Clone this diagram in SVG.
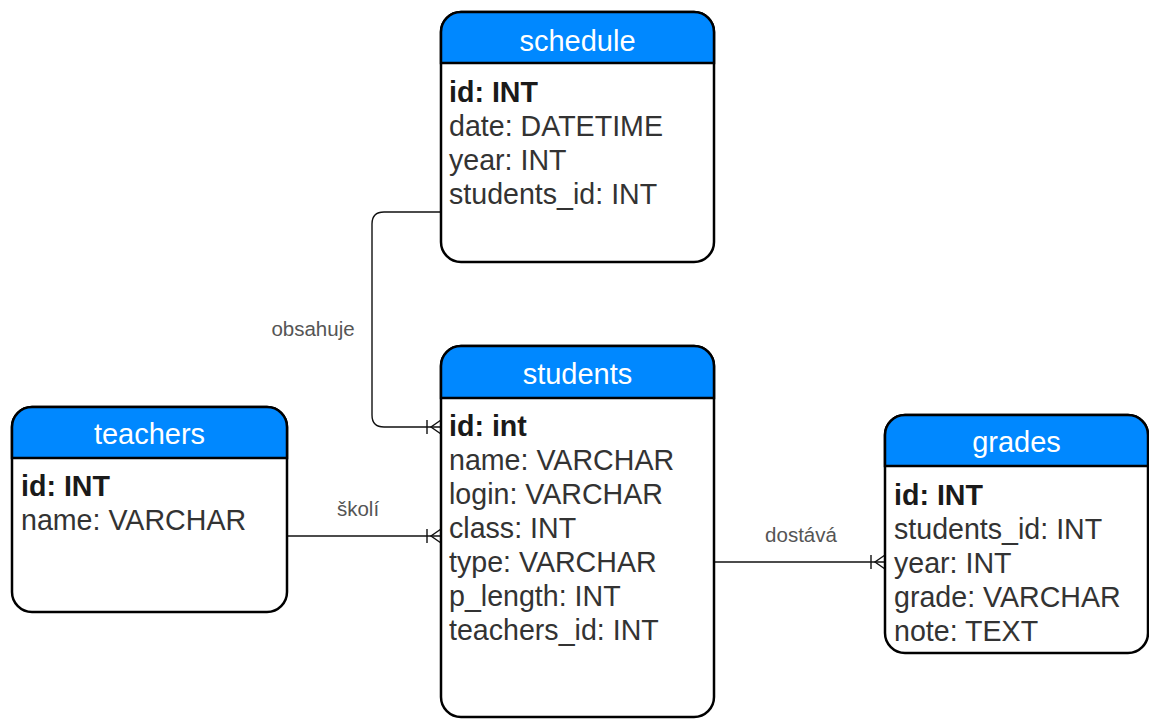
<svg xmlns="http://www.w3.org/2000/svg" width="1149" height="719" viewBox="0 0 1149 719">
<style>
.box{fill:#fff;stroke:#000;stroke-width:2.5}
.hdr{fill:#0088ff;stroke:#000;stroke-width:2.5}
.ht{font-family:"Liberation Sans",Arial,sans-serif;font-size:29px;fill:#fff;text-anchor:middle}
.row{font-family:"Liberation Sans",Arial,sans-serif;font-size:28.6px;fill:#333}
.pk{font-weight:bold;fill:#1a1a1a}
.lbl{font-family:"Liberation Sans",Arial,sans-serif;font-size:20.5px;fill:#555;text-anchor:middle}
.edge{fill:none;stroke:#111;stroke-width:1.4}
</style>
<defs>
<marker id="otm" markerUnits="userSpaceOnUse" viewBox="-16 -9 18 18" refX="0" refY="0" markerWidth="18" markerHeight="18" orient="auto" overflow="visible">
<path d="M0,-7 L-10,0 L0,7 M-14,-7 V7" fill="none" stroke="#111" stroke-width="1.4"/>
</marker>
</defs>
<g id="connectors">
<path class="edge" d="M441,212 H384 Q372,212 372,224 V415 Q372,427 384,427 H441" marker-end="url(#otm)"/>
<path class="edge" d="M287,536 H441" marker-end="url(#otm)"/>
<path class="edge" d="M714,562 H885" marker-end="url(#otm)"/>
<text class="lbl" x="313" y="336">obsahuje</text>
<text class="lbl" x="358" y="516">školí</text>
<text class="lbl" x="801" y="542">dostává</text>
</g>
<g id="schedule">
<rect class="box" x="441" y="12" width="273" height="250" rx="20"/>
<path class="hdr" d="M441,63 V32 A20,20 0 0 1 461,12 H694 A20,20 0 0 1 714,32 V63 Z"/>
<text class="ht" x="577.5" y="51">schedule</text>
<text class="row pk" x="449" y="102">id: INT</text>
<text class="row" x="449" y="136">date: DATETIME</text>
<text class="row" x="449" y="170">year: INT</text>
<text class="row" x="449" y="204">students_id: INT</text>
</g>
<g id="students">
<rect class="box" x="441" y="346" width="273" height="371" rx="20"/>
<path class="hdr" d="M441,398 V366 A20,20 0 0 1 461,346 H694 A20,20 0 0 1 714,366 V398 Z"/>
<text class="ht" x="577.5" y="384">students</text>
<text class="row pk" x="449" y="436">id: int</text>
<text class="row" x="449" y="470">name: VARCHAR</text>
<text class="row" x="449" y="504">login: VARCHAR</text>
<text class="row" x="449" y="538">class: INT</text>
<text class="row" x="449" y="572">type: VARCHAR</text>
<text class="row" x="449" y="606">p_length: INT</text>
<text class="row" x="449" y="640">teachers_id: INT</text>
</g>
<g id="teachers">
<rect class="box" x="12" y="407" width="275" height="205" rx="20"/>
<path class="hdr" d="M12,458 V427 A20,20 0 0 1 32,407 H267 A20,20 0 0 1 287,427 V458 Z"/>
<text class="ht" x="149.5" y="444">teachers</text>
<text class="row pk" x="21" y="496">id: INT</text>
<text class="row" x="21" y="530">name: VARCHAR</text>
</g>
<g id="grades">
<rect class="box" x="885" y="415" width="263" height="238" rx="20"/>
<path class="hdr" d="M885,466 V435 A20,20 0 0 1 905,415 H1128 A20,20 0 0 1 1148,435 V466 Z"/>
<text class="ht" x="1016.5" y="452">grades</text>
<text class="row pk" x="894" y="505">id: INT</text>
<text class="row" x="894" y="539">students_id: INT</text>
<text class="row" x="894" y="573">year: INT</text>
<text class="row" x="894" y="607">grade: VARCHAR</text>
<text class="row" x="894" y="641">note: TEXT</text>
</g>
</svg>
